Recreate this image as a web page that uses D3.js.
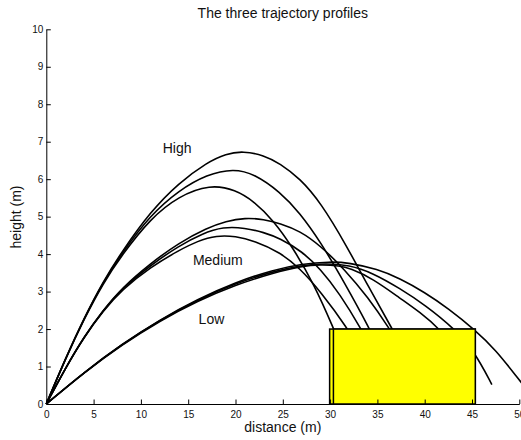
<!DOCTYPE html>
<html>
<head>
<meta charset="utf-8">
<script src="https://cdn.jsdelivr.net/npm/d3@7"></script>
<style>
  body { margin: 0; background: #fff; }
  svg { display: block; }
  text { font-family: "Liberation Sans", Arial, Helvetica, sans-serif; }
</style>
</head>
<body>
<svg id="chart" width="521" height="440"></svg>
<script>
// ---- Data ----
const xTicks = [0, 5, 10, 15, 20, 25, 30, 35, 40, 45, 50];
const yTicks = [0, 1, 2, 3, 4, 5, 6, 7, 8, 9, 10];

// High launch angle trajectories
const high1 = [[0,0],[2,1.2],[4,2.3],[6,3.27],[8,4.07],[11,5.13],[14,5.9],[17,6.45],[19,6.68],[20.8,6.75],[23,6.64],[24.7,6.42],[26.8,6.02],[29,5.38],[31.75,4.22],[34,3.15],[36.6,2.0],[38,1.3]];
const high2 = [[0,0],[2,1.2],[4,2.29],[6,3.25],[8,4.03],[11,5.04],[14,5.7],[17,6.13],[19.8,6.28],[22,6.14],[24.7,5.66],[26.8,5.1],[29,4.32],[31.5,3.25],[34.2,2.0],[35.5,1.3]];
const high3 = [[0,0],[2,1.19],[4,2.27],[6,3.22],[8,3.98],[11,4.95],[14,5.55],[17.3,5.86],[20,5.72],[22,5.4],[24,4.9],[26,4.2],[28.3,3.2],[30.4,2.0],[31.5,1.3]];

// Medium launch angle trajectories
const med1 = [[0,0],[2,0.95],[4,1.8],[6,2.5],[8,3.1],[11,3.75],[14,4.3],[17,4.7],[19,4.88],[21,4.97],[23,4.93],[24.7,4.82],[26.8,4.62],[29,4.22],[31.5,3.6],[34,2.85],[36.3,2.0],[37.5,1.5]];
const med2 = [[0,0],[2,0.95],[4,1.8],[6,2.5],[8,3.08],[11,3.7],[14,4.22],[16.5,4.55],[18.7,4.73],[21,4.7],[23,4.58],[24.7,4.42],[27,4.08],[29,3.6],[31,2.95],[33.3,2.0],[34.5,1.4]];
const med3 = [[0,0],[2,0.95],[4,1.79],[6,2.48],[8,3.05],[11,3.65],[14,4.1],[16,4.35],[18,4.5],[20,4.48],[22,4.35],[24.7,4.05],[26.8,3.62],[29,3.0],[31.9,2.0],[33,1.5]];

// Low launch angle trajectories
const low1 = [[0,0],[4,0.85],[8,1.6],[12,2.25],[16,2.8],[20,3.25],[24,3.58],[27,3.74],[30,3.8],[32,3.77],[35,3.6],[37.4,3.35],[40,2.98],[42.5,2.55],[45.3,1.98],[47.5,1.45],[50,0.64],[50.5,0.48]];
const low2 = [[0,0],[4,0.85],[8,1.6],[12,2.24],[16,2.78],[20,3.22],[24,3.54],[27,3.7],[29.5,3.75],[32,3.71],[34.5,3.5],[37.4,3.08],[40,2.65],[43.2,2.0],[45.3,1.38],[47.1,0.52]];
const low3 = [[0,0],[4,0.84],[8,1.58],[12,2.22],[16,2.75],[20,3.18],[24,3.5],[27,3.68],[29,3.72],[31,3.69],[32.1,3.62],[34.5,3.35],[37.4,2.82],[39.5,2.45],[41.6,2.0],[43.5,1.4]];

const trajectories = [high1, high2, high3, med1, med2, med3, low1, low2, low3];

// Target box(es): [x0, x1, height]
const boxes = [[29.95, 45.35, 2], [30.35, 45.35, 2]];

// Group labels: [text, x, y]
const labels = [["High", 12.3, 6.82], ["Medium", 15.5, 3.85], ["Low", 16.1, 2.28]];

const title = "The three trajectory profiles";
const xLabel = "distance (m)";
const yLabel = "height (m)";

// ---- Drawing ----
const svg = d3.select("#chart");
const x = d3.scaleLinear().domain([0, 50]).range([46.3, 519.3]);
const y = d3.scaleLinear().domain([0, 10]).range([404, 29.3]);

svg.append("defs").append("clipPath").attr("id", "clip")
  .append("rect").attr("x", 0).attr("y", 0).attr("width", 521).attr("height", 404);

const line = d3.line().x(d => x(d[0])).y(d => y(d[1])).curve(d3.curveBasis);

svg.append("g").attr("clip-path", "url(#clip)")
  .selectAll("path").data(trajectories).join("path")
  .attr("d", line)
  .attr("fill", "none")
  .attr("stroke", "#000")
  .attr("stroke-width", 1.6);

svg.append("g").selectAll("rect").data(boxes).join("rect")
  .attr("x", d => x(d[0]))
  .attr("y", d => y(d[2]))
  .attr("width", d => x(d[1]) - x(d[0]))
  .attr("height", d => y(0) - y(d[2]))
  .attr("fill", "#ffff00")
  .attr("stroke", "#000")
  .attr("stroke-width", 1.5);

svg.append("g").selectAll("text").data(labels).join("text")
  .attr("x", d => x(d[1]))
  .attr("y", d => y(d[2]))
  .attr("dominant-baseline", "central")
  .attr("font-size", 14)
  .attr("fill", "#111")
  .text(d => d[0]);

const xAxis = d3.axisBottom(x).tickValues(xTicks).tickSizeInner(-4.5).tickSizeOuter(0).tickPadding(6.5);
const yAxis = d3.axisLeft(y).tickValues(yTicks).tickSizeInner(-4.5).tickSizeOuter(0).tickPadding(3);

const gx = svg.append("g").attr("transform", `translate(0,${y(0)})`).call(xAxis);
const gy = svg.append("g").attr("transform", `translate(${x(0)},0)`).call(yAxis);
[gx, gy].forEach(g => {
  g.selectAll("text").attr("font-size", 10).attr("fill", "#111")
    .attr("font-family", '"Liberation Sans", Arial, Helvetica, sans-serif');
  g.selectAll("line").attr("stroke", "#000");
  g.select(".domain").attr("stroke", "#000");
});

svg.append("text").attr("x", 282.8).attr("y", 18).attr("text-anchor", "middle")
  .attr("font-size", 14).attr("fill", "#111").text(title);
svg.append("text").attr("x", 282.8).attr("y", 432).attr("text-anchor", "middle")
  .attr("font-size", 14).attr("fill", "#111").text(xLabel);
svg.append("text").attr("transform", "translate(21,217) rotate(-90)").attr("text-anchor", "middle")
  .attr("font-size", 14).attr("fill", "#111").text(yLabel);
</script>
</body>
</html>
